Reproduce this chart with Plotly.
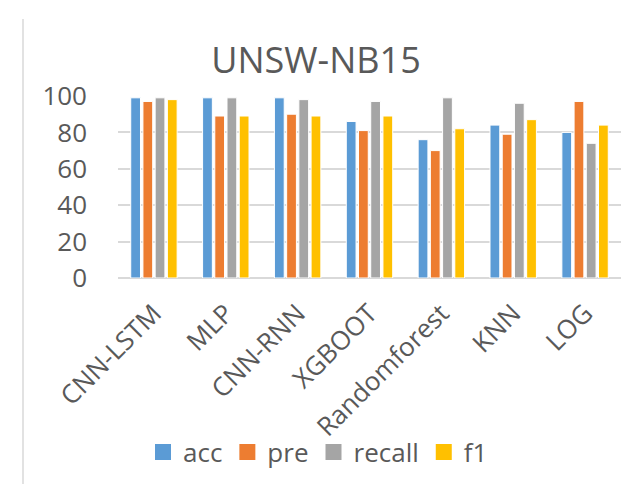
import plotly.graph_objects as go

categories = ["CNN-LSTM", "MLP", "CNN-RNN", "XGBOOT", "Randomforest", "KNN", "LOG"]
acc = [99, 99, 99, 86, 76, 84, 80]
pre = [97, 89, 90, 81, 70, 79, 97]
recall = [99, 99, 98, 97, 99, 96, 74]
f1 = [98, 89, 89, 89, 82, 87, 84]
y_ticks = [0, 20, 40, 60, 80, 100]

series = [("acc", acc, "#5B9BD5"), ("pre", pre, "#ED7D31"),
          ("recall", recall, "#A5A5A5"), ("f1", f1, "#FFC000")]

FONT = "Open Sans"
GRAY = "#595959"
FS = 26

fig = go.Figure()
for name, vals, col in series:
    fig.add_trace(go.Bar(x=categories, y=vals, name=name, showlegend=False,
                         marker=dict(color=col, line=dict(color="white", width=1))))
# legend entries with larger square keys
for name, vals, col in series:
    fig.add_trace(go.Scatter(x=[None], y=[None], mode="markers", name=name,
                             marker=dict(symbol="square", size=18, color=col),
                             showlegend=True))

W, H = 643, 484
L, R, T, B = 110, 30, 88, 214
pw, ph = W - L - R, H - T - B

def px2x(px):
    return (px - L) / pw

def py2y(py):
    return (H - B - py) / ph

fig.update_layout(
    width=W, height=H,
    margin=dict(l=L, r=R, t=T, b=B),
    paper_bgcolor="white", plot_bgcolor="white",
    barmode="group", bargap=0.32, bargroupgap=0.2,
    font=dict(family=FONT, color=GRAY, size=FS),
    title=dict(text="UNSW-NB15", x=308 / W, xref="container", xanchor="center",
               y=1 - 52 / H, yref="container", yanchor="middle",
               font=dict(size=36, color=GRAY, family=FONT)),
    showlegend=True,
    legend=dict(orientation="h", x=px2x(310), xanchor="center", y=py2y(444), yanchor="middle",
                font=dict(size=FS, color=GRAY, family=FONT), itemwidth=30,
                traceorder="normal", bgcolor="rgba(0,0,0,0)"),
    xaxis=dict(tickangle=-45, showgrid=False, showline=False, ticks="", automargin=False,
               tickfont=dict(size=FS, color=GRAY, family=FONT), ticklabelstandoff=14),
    yaxis=dict(range=[0, 100], tickvals=y_ticks, showgrid=True, gridcolor="#D9D9D9",
               gridwidth=1.5, zeroline=True, zerolinecolor="#D9D9D9", zerolinewidth=1.5,
               showline=False, ticks="", automargin=False,
               tickfont=dict(size=FS, color=GRAY, family=FONT), ticklabelstandoff=30),
    shapes=[
        dict(type="line", xref="paper", yref="paper", x0=px2x(15), x1=px2x(15),
             y0=py2y(11), y1=py2y(484), line=dict(color="#D9D9D9", width=1.5)),
        dict(type="line", xref="paper", yref="paper", x0=px2x(642), x1=px2x(642),
             y0=py2y(11), y1=py2y(484), line=dict(color="#D9D9D9", width=1.5)),
    ],
)

fig.write_html("out.html")
